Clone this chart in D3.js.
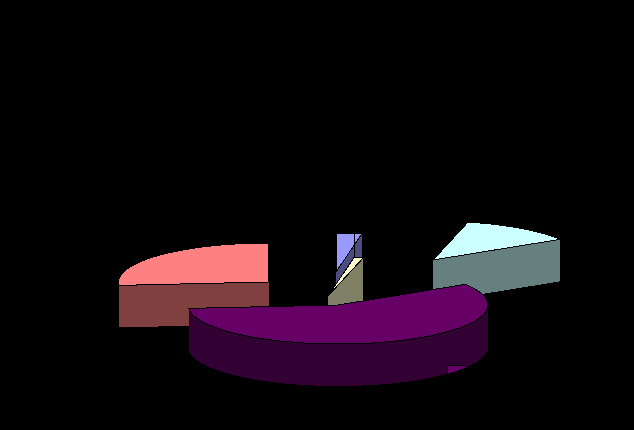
<!DOCTYPE html>
<html>
<head>
<meta charset="utf-8">
<style>html,body{margin:0;padding:0;background:#000;overflow:hidden}svg{display:block}</style>
<script src="https://cdn.jsdelivr.net/npm/d3@7"></script>
</head>
<body>
<svg id="chart" width="634" height="430"></svg>
<script>
// Data (degrees of the pie)
const categories = ["A", "B", "C", "D", "E"];
const values = [10, 3.5, 44.5, 207, 95];
// Styles and explosion layout, by category
const topColors = ["#9999FF", "#FFFFCC", "#CCFFFF", "#660066", "#FF8080"];
const wallColors = ["#4D4D80", "#808066", "#668080", "#330033", "#804040"];
const centerX = [336, 328, 433, 338, 268.5];
const centerY = [272, 296, 260, 305, 282];
const drawOrder = [4, 0, 1, 2, 3];
// Small stray patch on the purple wall, as an angular range in degrees
const patchRange = [133, 122];

const W = 634, H = 430, RX = 150, RY = 39, DEPTH = 42;
const rad = d => d * Math.PI / 180;
const svg = d3.select("#chart").attr("viewBox", `0 0 ${W} ${H}`);
svg.append("rect").attr("width", W).attr("height", H).attr("fill", "#000");

const pie = d3.pie().sort(null).value(d => d)
  .startAngle(0).endAngle(2 * Math.PI);
const arcs = pie(values);

// Unit-circle pie projected on a squashed ellipse through two scales
const sx = d3.scaleLinear().domain([-1, 1]).range([-RX, RX]);
const sy = d3.scaleLinear().domain([-1, 1]).range([-RY, RY]);
const pt = (a, dz) => [sx(Math.sin(a)), sy(-Math.cos(a)) + (dz || 0)];
const arcPts = (a0, a1, dz) => d3.range(0, 61).map(i => pt(a0 + (a1 - a0) * i / 60, dz));
const line = d3.line().curve(d3.curveLinear);

const g = svg.append("g").attr("shape-rendering", "crispEdges");
drawOrder.forEach(i => {
  const d = arcs[i];
  const s = g.append("g").attr("class", "slice")
    .attr("data-name", categories[i])
    .attr("transform", `translate(${centerX[i]},${centerY[i]})`);
  const wall = p => s.append("path").attr("d", line(p) + "Z").attr("fill", wallColors[i]);
  // radial walls
  [d.startAngle, d.endAngle].forEach(a => {
    wall([[0, 0], pt(a), pt(a, DEPTH), [0, DEPTH]]);
  });
  // outer wall: only the part that faces the viewer (90 to 270 degrees)
  const a0 = Math.max(d.startAngle, Math.PI / 2), a1 = Math.min(d.endAngle, 1.5 * Math.PI);
  if (a1 > a0) wall(arcPts(a0, a1).concat(arcPts(a1, a0, DEPTH)));
  // stray patch on the purple wall
  if (i === 3) {
    const [p0, p1] = patchRange.map(rad);
    const edge = arcPts(p0, p1, DEPTH);
    const topY = edge[60][1] - 2;
    const outline = [edge[0], [edge[0][0], topY], [edge[60][0], topY]];
    s.append("path").attr("d", line(edge.concat(outline.slice().reverse())) + "Z")
      .attr("fill", topColors[i]);
    s.append("path").attr("d", line(outline))
      .attr("fill", "none").attr("stroke", "#000");
  }
  // top
  s.append("path").attr("d", line([[0, 0]].concat(arcPts(d.startAngle, d.endAngle))) + "Z")
    .attr("fill", topColors[i]).attr("stroke", "#000").attr("stroke-width", 1);
  // seam rising from the yellow slice's rim to the top of the blue slice
  if (i === 1) {
    const p = pt(d.startAngle);
    const topOfBlue = centerY[0] + sy(-1) - centerY[1];
    s.append("path").attr("d", line([p, [p[0], topOfBlue]]))
      .attr("fill", "none").attr("stroke", "#000");
  }
});
</script>
</body>
</html>
